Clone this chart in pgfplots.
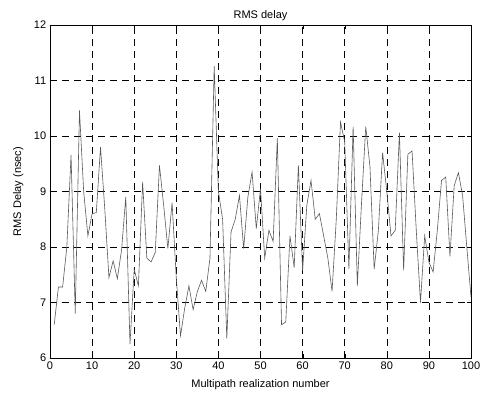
\documentclass[border=0pt]{standalone}
\usepackage{fontspec}
\setmainfont{Liberation Sans}
\usepackage{pgfplots}
\pgfplotsset{compat=1.18}
\begin{document}
\fontsize{11}{13}\selectfont
\begin{tikzpicture}
\begin{axis}[
  name=ax,
  scale only axis,
  width=421pt, height=333pt,
  xmin=0, xmax=100, ymin=6, ymax=12,
  xtick={0,10,...,100}, ytick={6,7,...,12},
  /pgf/number format/assume math mode=true,
  tick label style={font=\fontsize{11}{13}\selectfont},
  label style={font=\fontsize{11}{13}\selectfont},
  title style={font=\fontsize{11}{13}\selectfont, yshift=-6pt},
  title={RMS delay},
  xlabel={Multipath realization number},
  ylabel={RMS Delay (nsec)},
  xlabel style={yshift=-2pt},
  ylabel style={yshift=3pt},
  grid=major,
  major grid style={black, dash pattern=on 7pt off 5pt, line width=0.5pt},
  tick align=inside,
  major tick length=4pt,
  axis line style={black, line width=0.6pt},
  tick style={black},
]
\addplot[color=black!65, line width=0.6pt] coordinates {
(1,6.6) (2,7.28) (3,7.28) (4,8.0) (5,9.66) (6,6.8) (7,10.46) (8,9.0) (9,8.2) (10,8.6)
(11,8.62) (12,9.8) (13,8.7) (14,7.45) (15,7.75) (16,7.43) (17,7.95) (18,8.9) (19,6.25) (20,7.6)
(21,7.3) (22,9.17) (23,7.8) (24,7.73) (25,7.9) (26,9.47) (27,8.75) (28,7.97) (29,8.8) (30,7.44)
(31,6.4) (32,6.9) (33,7.3) (34,6.87) (35,7.2) (36,7.4) (37,7.2) (38,7.8) (39,11.26) (40,9.0)
(41,8.5) (42,6.35) (43,8.27) (44,8.5) (45,8.93) (46,7.97) (47,8.9) (48,9.35) (49,8.33) (50,9.05)
(51,7.8) (52,8.3) (53,8.1) (54,9.96) (55,6.6) (56,6.65) (57,8.2) (58,7.63) (59,9.47) (60,7.57)
(61,8.75) (62,9.2) (63,8.5) (64,8.6) (65,8.2) (66,7.8) (67,7.2) (68,8.5) (69,10.25) (70,9.9)
(71,7.6) (72,10.17) (73,7.3) (74,8.8) (75,10.17) (76,9.45) (77,7.6) (78,8.3) (79,9.7) (80,9.0)
(81,8.2) (82,8.3) (83,10.06) (84,7.58) (85,9.67) (86,9.73) (87,8.3) (88,7.0) (89,8.2) (90,7.73)
(91,7.55) (92,8.3) (93,9.2) (94,9.26) (95,7.83) (96,9.1) (97,9.34) (98,8.93) (99,8.0) (100,7.1)
};
\end{axis}
\path[use as bounding box] ([shift={(-50pt,-43pt)}]ax.south west) rectangle ([shift={(19pt,25pt)}]ax.north east);
\end{tikzpicture}
\end{document}
